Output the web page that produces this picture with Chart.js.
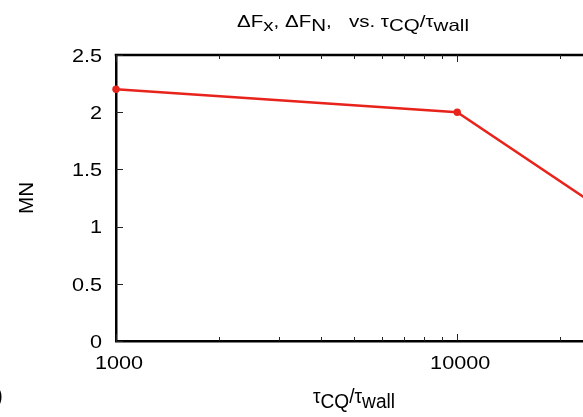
<!DOCTYPE html>
<html>
<head>
<meta charset="utf-8">
<title>dF vs tau_CQ/tau_wall</title>
<script src="https://cdn.jsdelivr.net/npm/chart.js@4.4.1/dist/chart.umd.min.js"></script>
<style>
  html, body { margin: 0; padding: 0; background: #fff; overflow: hidden; }
  #wrap { width: 600px; height: 417px; }
</style>
</head>
<body>
<div id="wrap"><canvas id="chart" width="600" height="417"></canvas></div>
<script>
// data
const tauRatio = [1000, 10000, 100000];
const deltaF = [2.2, 2.0, 0.0];

// log axis ticks (only decades get a label)
const xTicks = [1000, 2000, 3000, 4000, 5000, 6000, 7000, 8000, 9000, 10000, 20000];
const xLabels = [1000, 10000];
const yTicks = [0, 0.5, 1, 1.5, 2, 2.5];
const yTickLabels = ["0", "0.5", "1", "1.5", "2", "2.5"];

const FONT = "'Liberation Sans', Arial, Helvetica, sans-serif";
const RED = "#e8231b";

// text in the original is a bit wider than Arial, so stretch horizontally
function drawRich(ctx, parts, x, y, size, opts) {
  opts = opts || {};
  ctx.font = size + "px " + FONT;
  let natural = 0;
  parts.forEach(function (p) {
    p.w = ctx.measureText(p.t).width;
    natural += p.w;
  });
  const sx = opts.width ? opts.width / natural : (opts.sx || 1);
  const total = natural * sx;
  let left = x;
  if (opts.align === "center") left = x - total / 2;
  if (opts.align === "right") left = x - total;
  ctx.save();
  ctx.translate(left, y);
  ctx.scale(sx, 1);
  ctx.textAlign = "left";
  ctx.textBaseline = "alphabetic";
  let cur = 0;
  parts.forEach(function (p) {
    ctx.fillText(p.t, cur, p.sub ? (opts.drop || size * 0.3) : 0);
    cur += p.w;
  });
  ctx.restore();
}

const frame = {
  id: "frame",
  afterDraw: function (chart) {
    const ctx = chart.ctx;
    const a = chart.chartArea;
    const xs = chart.scales.x;
    const ys = chart.scales.y;
    ctx.save();
    ctx.strokeStyle = "#000";

    // top border
    ctx.lineWidth = 2.5;
    ctx.beginPath();
    ctx.moveTo(a.left - 1.25, a.top);
    ctx.lineTo(a.right, a.top);
    ctx.stroke();

    // inward ticks
    ctx.lineWidth = 1;
    ctx.strokeStyle = "#222";
    xTicks.forEach(function (v) {
      const px = Math.round(xs.getPixelForValue(v)) + 0.5;
      const len = xLabels.includes(v) ? 7 : 4;
      ctx.beginPath();
      ctx.moveTo(px, a.bottom);
      ctx.lineTo(px, a.bottom - len);
      ctx.moveTo(px, a.top);
      ctx.lineTo(px, a.top + len);
      ctx.stroke();
    });
    yTicks.forEach(function (v) {
      const py = Math.round(ys.getPixelForValue(v)) + 0.5;
      ctx.beginPath();
      ctx.moveTo(a.left, py);
      ctx.lineTo(a.left + 7, py);
      ctx.stroke();
    });

    ctx.fillStyle = "#000";

    // tick labels
    yTicks.forEach(function (v, i) {
      const py = ys.getPixelForValue(v);
      drawRich(ctx, [{ t: yTickLabels[i] }], a.left - 14, py + 6.7, 18.5, { sx: 1.17, align: "right" });
    });
    xLabels.forEach(function (v) {
      const px = xs.getPixelForValue(v);
      drawRich(ctx, [{ t: String(v) }], px + 3, a.bottom + 28.3, 18.5, { sx: 1.17, align: "center" });
    });

    const cx = (a.left + a.right) / 2;

    // title
    drawRich(ctx, [
      { t: "\u0394F" }, { t: "x", sub: true }, { t: ", \u0394F" }, { t: "N", sub: true },
      { t: ",   vs. \u03c4" }, { t: "CQ", sub: true }, { t: "/\u03c4" }, { t: "wall", sub: true }
    ], cx, 26.5, 16.5, { width: 232, align: "center", drop: 4.5 });

    // x axis title
    drawRich(ctx, [
      { t: "\u03c4" }, { t: "CQ", sub: true }, { t: "/\u03c4" }, { t: "wall", sub: true }
    ], cx + 1, 402.7, 19.5, { width: 82, align: "center", drop: 5 });

    // y axis title
    ctx.save();
    ctx.translate(33.3, (a.top + a.bottom) / 2);
    ctx.rotate(-Math.PI / 2);
    ctx.font = "20.5px " + FONT;
    ctx.textAlign = "center";
    ctx.textBaseline = "alphabetic";
    ctx.fillText("MN", 0, 0);
    ctx.restore();

    // edge of a neighbouring panel label
    ctx.font = "24px " + FONT;
    ctx.textAlign = "left";
    ctx.fillText(")", -5, 403);

    ctx.restore();
  }
};

const ctx = document.getElementById("chart").getContext("2d");
new Chart(ctx, {
  type: "line",
  data: {
    datasets: [
      {
        data: tauRatio.map(function (x, i) { return { x: x, y: deltaF[i] }; }),
        borderColor: RED,
        backgroundColor: RED,
        borderWidth: 2.5,
        pointRadius: 3.7,
        pointHoverRadius: 3.7,
        pointBorderWidth: 0,
        tension: 0,
        clip: false,
      },
    ],
  },
  options: {
    responsive: false,
    animation: false,
    events: [],
    layout: { padding: { left: 0, top: 55, right: 10, bottom: 0 } },
    plugins: {
      legend: { display: false },
      tooltip: { enabled: false },
    },
    scales: {
      x: {
        type: "logarithmic",
        min: 1000,
        max: 24500,
        grid: { display: false, drawTicks: false },
        border: { display: true, color: "#000", width: 2.5 },
        afterBuildTicks: function (s) {
          s.ticks = xTicks.map(function (v) { return { value: v }; });
        },
        ticks: { display: false },
        afterFit: function (s) { s.height = 76; },
      },
      y: {
        min: 0,
        max: 2.5,
        grid: { display: false, drawTicks: false },
        border: { display: true, color: "#000", width: 2.5 },
        afterBuildTicks: function (s) {
          s.ticks = yTicks.map(function (v) { return { value: v }; });
        },
        ticks: { display: false },
        afterFit: function (s) { s.height = s.height; s.width = 116; },
      },
    },
  },
  plugins: [frame],
});
</script>
</body>
</html>
